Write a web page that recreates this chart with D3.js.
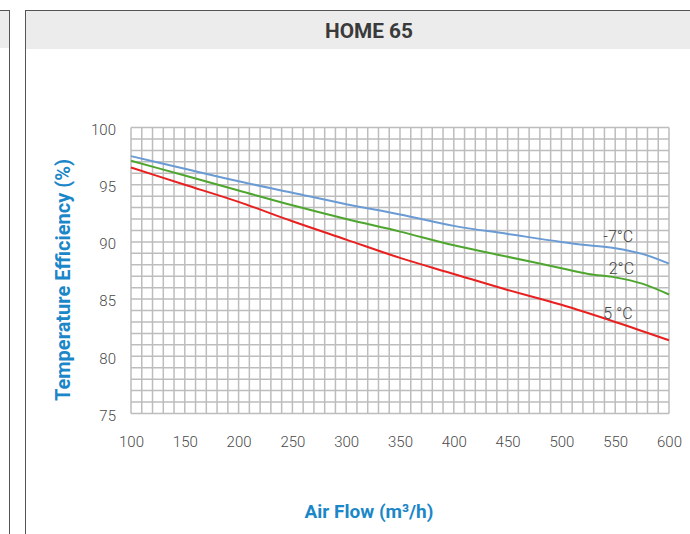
<!DOCTYPE html>
<html><head><meta charset="utf-8">
<script src="https://cdn.jsdelivr.net/npm/d3@7"></script>
<style>body{margin:0;background:#fff}svg{display:block}</style>
</head><body>
<script>
const title = "HOME 65";
const xTitle = "Air Flow (m³/h)";
const yTitle = "Temperature Efficiency (%)";
const xTicks = [100,150,200,250,300,350,400,450,500,550,600];
const yTicks = [75,80,85,90,95,100];
const seriesNames = ["-7°C","2°C","5 °C"];
const seriesColors = ["#6a9bd4","#4ea62f","#e8201f"];
const blueX = [100,150,200,250,300,350,400,450,500,525,550,575,600];
const blueY = [97.5,96.4,95.3,94.3,93.3,92.4,91.4,90.7,90.0,89.7,89.45,88.95,88.1];
const greenX = [100,150,200,250,300,350,400,450,500,525,550,575,600];
const greenY = [97.1,95.8,94.5,93.2,92.0,90.9,89.7,88.7,87.7,87.2,86.9,86.35,85.4];
const redX = [100,150,200,250,300,350,400,450,500,550,600];
const redY = [96.5,95.0,93.5,91.8,90.2,88.6,87.2,85.8,84.5,83.0,81.4];
const labelPos = [[539,90.0],[544,87.2],[539,83.25]];

const W=690,H=534;
const svg=d3.select("body").append("svg").attr("width",W).attr("height",H);
const font="Roboto, 'DejaVu Sans', sans-serif";

// panels
svg.append("rect").attr("x",0).attr("y",10).attr("width",9).attr("height",38).attr("fill","#ececec");
svg.append("line").attr("x1",0).attr("x2",9.5).attr("y1",10.5).attr("y2",10.5).attr("stroke","#555");
svg.append("line").attr("x1",9.5).attr("x2",9.5).attr("y1",10).attr("y2",H).attr("stroke","#555");
svg.append("rect").attr("x",25).attr("y",10).attr("width",W-25).attr("height",39).attr("fill","#ececec");
svg.append("line").attr("x1",25).attr("x2",W).attr("y1",10.5).attr("y2",10.5).attr("stroke","#555");
svg.append("line").attr("x1",25.5).attr("x2",25.5).attr("y1",10).attr("y2",H).attr("stroke","#555");
svg.append("text").attr("x",369).attr("y",38).attr("text-anchor","middle")
  .attr("font-family",font).attr("font-weight","bold").attr("font-size",21).attr("fill","#3a3a3a")
  .attr("textLength",88).attr("lengthAdjust","spacingAndGlyphs").text(title);

const x=d3.scaleLinear().domain([100,600]).range([131,669]);
const y=d3.scaleLinear().domain([75,100]).range([413.5,127.5]);

const g=svg.append("g");
// grid
const gx=d3.range(100,601,10), gy=d3.range(75,100.1,1);
g.selectAll(".vx").data(gx).join("line").attr("x1",d=>x(d)).attr("x2",d=>x(d))
  .attr("y1",y(75)).attr("y2",y(100)).attr("stroke","#bdbdbd").attr("stroke-width",1.5);
g.selectAll(".hy").data(gy).join("line").attr("y1",d=>y(d)).attr("y2",d=>y(d))
  .attr("x1",x(100)).attr("x2",x(600)).attr("stroke","#bdbdbd").attr("stroke-width",1.5);

// axes
const xa=svg.append("g").attr("transform",`translate(0,${y(75)})`)
  .call(d3.axisBottom(x).tickValues(xTicks).tickSize(0).tickPadding(23).tickFormat(d3.format("d")));
const ya=svg.append("g").attr("transform",`translate(${x(100)},0)`)
  .call(d3.axisLeft(y).tickValues(yTicks).tickSize(0).tickPadding(15).tickFormat(d3.format("d")));
[xa,ya].forEach(a=>{a.select(".domain").remove();
  a.selectAll("text").attr("font-family",font).attr("font-size",15).attr("fill","#4a4a4a").attr("font-weight",300);});
ya.selectAll("text").attr("dy","0.45em");

// lines
const series=[[blueX,blueY],[greenX,greenY],[redX,redY]];
const line=d3.line().x(d=>x(d[0])).y(d=>y(d[1])).curve(d3.curveMonotoneX);
series.forEach((s,i)=>{
  const pts=s[0].map((v,j)=>[v,s[1][j]]);
  svg.append("path").attr("d",line(pts)).attr("fill","none").attr("stroke",seriesColors[i]).attr("stroke-width",2);
});
seriesNames.forEach((n,i)=>{
  svg.append("text").attr("x",x(labelPos[i][0])).attr("y",y(labelPos[i][1]))
    .attr("font-family",font).attr("font-size",16).attr("fill","#444").attr("font-weight",300).text(n);
});

// titles
svg.append("text").attr("x",369).attr("y",518).attr("text-anchor","middle")
  .attr("font-family",font).attr("font-weight","bold").attr("font-size",19).attr("fill","#1b87c8").text(xTitle);
svg.append("text").attr("transform","translate(70,280) rotate(-90)").attr("text-anchor","middle")
  .attr("font-family",font).attr("font-weight","bold").attr("font-size",20).attr("fill","#1b87c8").text(yTitle);
</script>
</body></html>
